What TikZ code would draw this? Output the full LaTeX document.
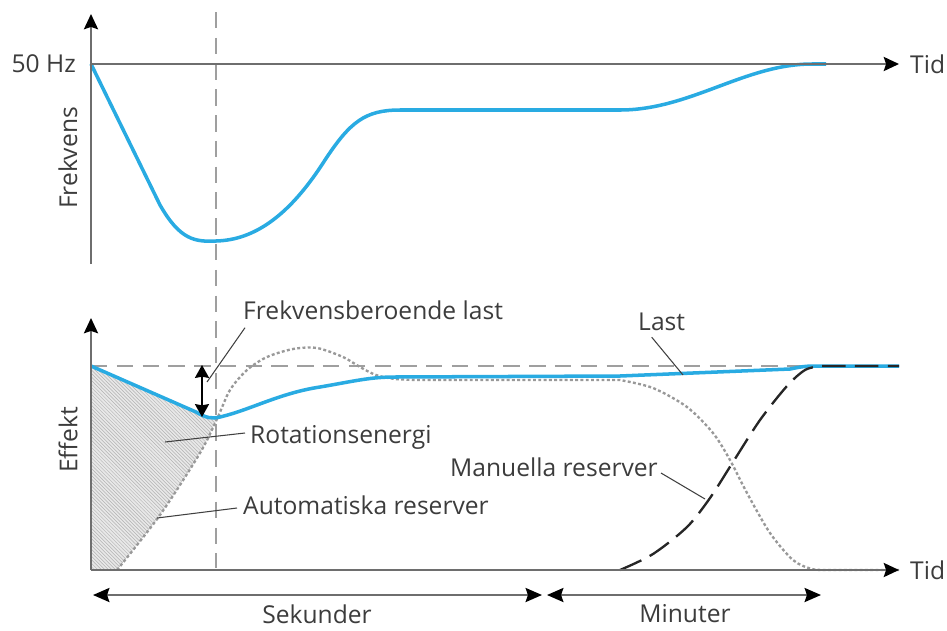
\documentclass[tikz,border=0pt]{standalone}
\usepackage{fontspec}
\setmainfont{Open Sans}
\usetikzlibrary{calc}
\usetikzlibrary{shapes,arrows.meta}
\usetikzlibrary{patterns}

\definecolor{curveblue}{RGB}{41,171,226}
\definecolor{axisgray}{RGB}{110,110,110}
\definecolor{textgray}{RGB}{60,60,60}

\tikzset{
  every node/.style={inner sep=0pt, text=textgray, font=\fontsize{21}{25}\selectfont},
  tip/.style={-{Stealth[length=13pt, width=12pt, inset=2pt, color=black]}},
  axis/.style={line width=2pt, draw=axisgray, tip},
  blue curve/.style={line width=3pt, draw=curveblue},
  guide/.style={line width=1.5pt, draw=gray!75, dash pattern=on 14pt off 8pt},
  auto res/.style={line width=2pt, draw=gray!80, dash pattern=on 2.5pt off 2pt},
  man res/.style={line width=2pt, draw=black!85, dash pattern=on 20pt off 8pt},
  leader/.style={line width=0.9pt, draw=black!75},
  span/.style={line width=1.8pt, draw=axisgray,
    {Stealth[length=14pt, width=12pt, inset=2pt, color=black]}-{Stealth[length=14pt, width=12pt, inset=2pt, color=black]}}
}

\begin{document}
\begin{tikzpicture}[x=0.03cm, y=-0.03cm]
    \useasboundingbox (0,0) rectangle (947,630);

    \coordinate (T0) at (91,64);
    \coordinate (T1) at (91,14);
    \coordinate (T2) at (91,264);
    \coordinate (T3) at (899,64);
    \coordinate (B0) at (91,570);
    \coordinate (B1) at (91,318);
    \coordinate (B2) at (899,570);
    \coordinate (L0) at (91,366);
    \coordinate (L1) at (899,366);
    \coordinate (V0) at (216,12);
    \coordinate (V1) at (216,568);
    \coordinate (D0) at (202,365);
    \coordinate (D1) at (202,417);
    \coordinate (S0) at (93,595);
    \coordinate (S1) at (542,595);
    \coordinate (S2) at (547,595);
    \coordinate (S3) at (821,595);
    \coordinate (M0) at (217,418);

    % rotationsenergi
    \fill [gray!18] (L0) -- (196,412) .. controls (206,418) and (212,419) .. (M0)
      -- plot [smooth] coordinates {(217,419) (200,453) (160,515) (117,570)} -- (B0) -- cycle;
    \fill [pattern=north west lines, pattern color=gray!60] (L0) -- (196,412) .. controls (206,418) and (212,419) .. (M0)
      -- plot [smooth] coordinates {(217,419) (200,453) (160,515) (117,570)} -- (B0) -- cycle;

    \draw [guide] (V0) -- (V1);
    \draw [guide] (L0) -- (L1);

    % automatiska reserver
    \draw [auto res] plot [smooth] coordinates {(117,570) (160,515) (200,453) (217,419) (230,390) (247,370)
      (267,357) (293,349) (317,348) (343,357) (360,367) (376,375) (395,379) (420,380)}
      -- (620,380)
      -- plot [smooth] coordinates {(620,380) (653,388) (687,407) (713,433) (730,460) (747,493)
      (770,533) (793,560) (812,569) (830,570)} -- (B2);

    % last
    \draw [blue curve] (L0) -- (196,412) .. controls (206,418) and (212,419) .. (220,417)
      .. controls (250,410) and (280,393) .. (320,387) .. controls (355,381) and (370,377) .. (395,377)
      -- (620,376) -- (790,369) .. controls (800,367) and (805,366) .. (815,366) -- (L1);

    % manuella reserver
    \draw [man res] plot [smooth] coordinates {(620,570) (653,554) (687,527) (710,498) (733,462)
      (760,420) (787,386) (805,370) (820,366)} -- (L1);

    % frekvens
    \draw [blue curve] (T0) -- (160,205) .. controls (180,240) and (195,242) .. (216,241)
      .. controls (255,240) and (290,215) .. (325,160) .. controls (350,122) and (365,110) .. (400,110)
      -- (620,110) .. controls (690,110) and (745,64) .. (812,64) -- (826,64);

    \draw [axis] (T2) -- (T1);
    \draw [axis] (T0) -- (T3);
    \draw [axis] (B0) -- (B1);
    \draw [axis] (B0) -- (B2);

    \draw [line width=1.5pt, {Stealth[length=11pt, width=12pt, inset=1pt]}-{Stealth[length=11pt, width=12pt, inset=1pt]}] (D0) -- (D1);

    \draw [span] (S0) -- (S1);
    \draw [span] (S2) -- (S3);

    \node (hz) [left] at (76,64) {50 Hz};
    \node (tid1) [right] at (910,64) {Tid};
    \node (tid2) [right] at (910,570) {Tid};
    \node (frekv) [rotate=90] at (68,158) {Frekvens};
    \node (effekt) [rotate=90] at (68,440) {Effekt};
    \node (sek) at (317,614) {Sekunder};
    \node (min) at (685,614) {Minuter};

    \node (fbl) [right] at (243,310) {Frekvensberoende last};
    \node (rot) [right] at (250,437) {Rotationsenergi};
    \node (aut) [right] at (243,505) {Automatiska reserver};
    \node (man) [right] at (450,467) {Manuella reserver};
    \node (last) [right] at (638,322) {Last};

    \coordinate (fblend) at (207,382);
    \coordinate (rotend) at (165,442);
    \coordinate (autend) at (157,518);
    \coordinate (manend) at (705,499);
    \coordinate (lastend) at (683,375);

    \draw [leader] ($(fbl.south west)+(2,8)$) -- (fblend);
    \draw [leader] ($(rot.west)+(-5,-4)$) -- (rotend);
    \draw [leader] ($(aut.west)+(-6,3)$) -- (autend);
    \draw [leader] ($(man.east)+(3,6)$) -- (manend);
    \draw [leader] ($(last.south)+(-10,6)$) -- (lastend);

  \end{tikzpicture}
\end{document}
